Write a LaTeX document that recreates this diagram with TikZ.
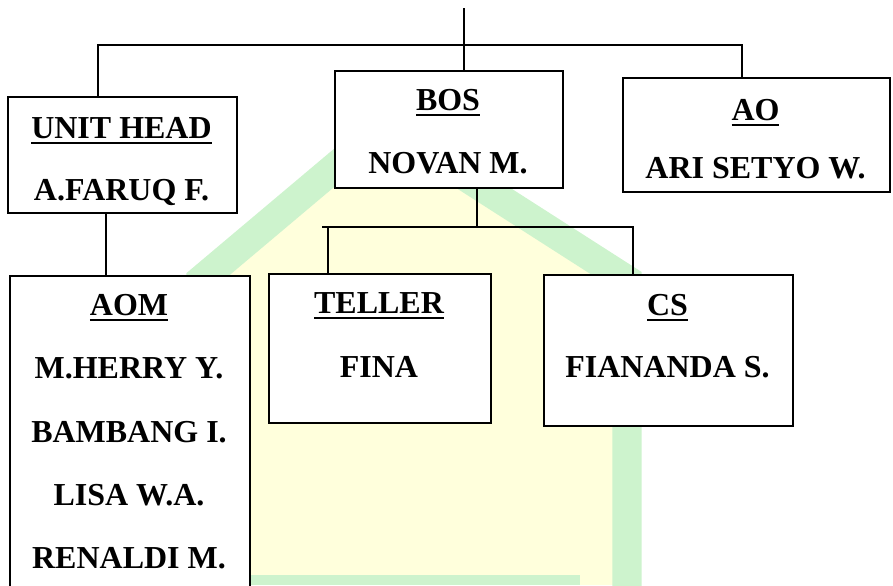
\documentclass[tikz,border=0pt]{standalone}
\usepackage{fontspec}
\setmainfont{Liberation Serif}
\usetikzlibrary{positioning}
\definecolor{markgreen}{RGB}{205,243,205}
\definecolor{markyellow}{RGB}{255,255,220}
\newcommand{\headul}[1]{\setbox0\hbox{#1}\rlap{\rule[-5.1pt]{\wd0}{2.1pt}}\box0}

\begin{document}
\begin{tikzpicture}[x=0.03cm, y=-0.03cm,
  box/.style={draw, fill=white, line width=1.5pt, inner sep=0pt, anchor=north west},
  lbl/.style={font=\fontsize{27.3}{32}\selectfont\bfseries, inner sep=0pt, anchor=base},
  link/.style={line width=1.3pt}]
  \clip (0,0) rectangle (893,585);

  % faint logo behind the chart
  \fill[markyellow] (201,585) -- (201,280) -- (385,125) -- (627,280) -- (627,585) -- cycle;
  \draw[markgreen, line width=25pt] (201,600) -- (201,280) -- (385,125) -- (627,280) -- (627,600);
  \draw[markgreen, line width=9pt] (250,580) -- (580,580);

  \node[box, minimum width=229*0.03cm, minimum height=116*0.03cm] (unithead) at (7,96) {};
  \node[box, minimum width=228*0.03cm, minimum height=117*0.03cm] (bos) at (334,70) {};
  \node[box, minimum width=267*0.03cm, minimum height=114*0.03cm] (ao) at (622,77) {};
  \node[box, minimum width=240*0.03cm, minimum height=340*0.03cm] (aom) at (9,275) {};
  \node[box, minimum width=222*0.03cm, minimum height=149*0.03cm] (teller) at (268,273) {};
  \node[box, minimum width=249*0.03cm, minimum height=151*0.03cm] (cs) at (543,274) {};

  \node[lbl] (uhrole) at (121.5,138) {\headul{UNIT HEAD}};
  \node[lbl] (uhname) at (121.5,200) {A.FARUQ F.};
  \node[lbl] (bosrole) at (448,110) {\headul{BOS}};
  \node[lbl] (bosname) at (448,173) {NOVAN M.};
  \node[lbl] (aorole) at (755.5,120) {\headul{AO}};
  \node[lbl] (aoname) at (755.5,178) {ARI SETYO W.};
  \node[lbl] (aomrole) at (129,315) {\headul{AOM}};
  \foreach \y/\who [count=\i] in {378/M.HERRY Y., 442/BAMBANG I., 505/LISA W.A., 568/RENALDI M.} {
    \node[lbl] (aomname\i) at (129,\y) {\who};
  }
  \node[lbl] (tellerrole) at (379,313) {\headul{TELLER}};
  \node[lbl] (tellername) at (379,377) {FINA};
  \node[lbl] (csrole) at (667.5,315) {\headul{CS}};
  \node[lbl] (csname) at (667.5,377) {FIANANDA S.};

  \coordinate (top) at (464,8);
  \coordinate (barL) at (98,45);
  \coordinate (barR) at (742,45);
  \coordinate (uhdrop) at (106,212);
  \coordinate (bosdrop) at (477,227);
  \coordinate (subL) at (322,227);
  \coordinate (subR) at (633,227);
  \coordinate (tdrop) at (328,227);

  \draw[link] (top) -- (top |- bos.north);
  \draw[link] (barL |- unithead.north) -- (barL) -- (barR) -- (barR |- ao.north);
  \draw[link] (uhdrop |- unithead.south) -- (uhdrop |- aom.north);
  \draw[link] (bosdrop |- bos.south) -- (bosdrop);
  \draw[link] (subL) -- (subR) -- (subR |- cs.north);
  \draw[link] (tdrop) -- (tdrop |- teller.north);
\end{tikzpicture}
\end{document}
